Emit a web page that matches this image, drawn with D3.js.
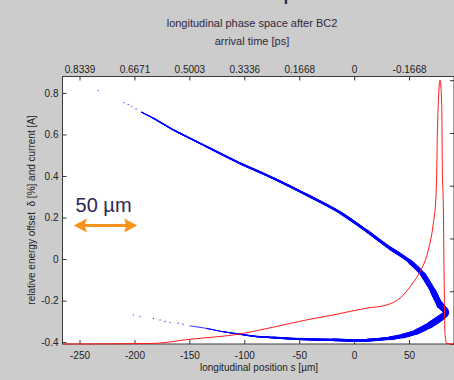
<!DOCTYPE html>
<html>
<head>
<meta charset="utf-8">
<script src="https://cdn.jsdelivr.net/npm/d3@7"></script>
<style>
  body { margin: 0; background: #cccccc; }
  svg { display: block; font-family: "Liberation Sans", Arial, sans-serif; }
  .tick text { fill: #222; font-size: 10px; }
  .tick line { stroke: #333; }
</style>
</head>
<body>
<svg id="chart" width="454" height="380"></svg>
<script>
// axis ticks
const sTicks = [-250, -200, -150, -100, -50, 0, 50];
const timeLabels = ["0.8339", "0.6671", "0.5003", "0.3336", "0.1668", "0", "-0.1668"];
const deltaTicks = [-0.4, -0.2, 0, 0.2, 0.4, 0.6, 0.8];
const currentTicks = [0, 1, 2, 3, 4, 5];

// dense core of the bunch (centre line, delta in %, spread = band width in %)
const beamS = [-193.4, -182.8, -164.6, -134.2, -103.9, -73.6, -43.1, -12.8, 11.5, 32.7, 50.9, 63.0, 72.1, 78.2, 83.7,
  78.2, 69.1, 57.0, 44.8, 32.7, 11.5, -19.2, -49.2, -73.6, -88.7, -103.9, -119.1, -134.2, -149.4];
const beamDelta = [0.707, 0.678, 0.622, 0.541, 0.461, 0.389, 0.309, 0.224, 0.135, 0.052, -0.013, -0.077, -0.157, -0.221, -0.257,
  -0.285, -0.317, -0.350, -0.370, -0.381, -0.391, -0.389, -0.385, -0.378, -0.373, -0.362, -0.350, -0.334, -0.322];
const beamSpread = [0.006, 0.007, 0.008, 0.009, 0.010, 0.011, 0.012, 0.013, 0.015, 0.018, 0.022, 0.026, 0.030, 0.034, 0.030,
  0.032, 0.032, 0.028, 0.024, 0.019, 0.015, 0.013, 0.011, 0.010, 0.008, 0.007, 0.006, 0.005, 0.004];

// sparse particles in the head and tail
const haloS = [-232.9, -209.4, -205.7, -202.4, -198.5, -201.0, -194.9, -182.8, -176.7, -172.2, -167.6, -160.3, -155.8];
const haloDelta = [0.811, 0.753, 0.744, 0.734, 0.723, -0.269, -0.277, -0.286, -0.293, -0.301, -0.306, -0.309, -0.314];

// current profile (kA)
const currentS = [-265.5, -184, -149.4, -103.9, -73.6, -40.1, -19.2, 11.5, 29.7, 41.8, 53.6, 60, 67.5, 72.1, 74.3, 75.2, 75.7,
  76.6, 78.2, 79.7, 80.3, 81.2, 81.8, 82.7, 84.3, 90.9];
const currentI = [0, 0.01, 0.09, 0.19, 0.32, 0.47, 0.55, 0.68, 0.74, 0.87, 1.16, 1.37, 1.78, 2.29, 2.73, 3.30, 3.93,
  4.56, 5.00, 4.56, 3.30, 2.60, 1.47, 0.20, 0.01, 0];

const svg = d3.select("#chart");
const plotLeft = 62.5, plotRight = 454, plotTop = 76.5, plotBottom = 344;

const x = d3.scaleLinear().domain([-265.5, 90.9]).range([plotLeft, plotRight]);
const y = d3.scaleLinear().domain([-0.409, 0.879]).range([plotBottom, plotTop]);
const yI = d3.scaleLinear().domain([0, 5.07]).range([plotBottom, plotTop]);

svg.append("defs").append("clipPath").attr("id", "plot-clip")
  .append("rect").attr("x", plotLeft).attr("y", plotTop)
  .attr("width", plotRight - plotLeft).attr("height", plotBottom - plotTop + 1);

svg.append("rect")
  .attr("x", plotLeft).attr("y", plotTop)
  .attr("width", plotRight - plotLeft).attr("height", plotBottom - plotTop)
  .attr("fill", "#fff")
  .attr("stroke", "#3a3a3a")
  .attr("stroke-width", 1);

// axes, ticks drawn inside the box
svg.append("g")
  .attr("transform", `translate(0,${plotBottom})`)
  .call(d3.axisBottom(x).tickValues(sTicks).tickSize(-4).tickPadding(8).tickFormat((d) => String(d)))
  .call((g) => g.select(".domain").remove());

svg.append("g")
  .attr("transform", `translate(0,${plotTop})`)
  .call(d3.axisTop(x).tickValues(sTicks).tickSize(-4).tickPadding(4).tickFormat((d, i) => timeLabels[i]))
  .call((g) => g.select(".domain").remove());

svg.append("g")
  .attr("transform", `translate(${plotLeft},0)`)
  .call(d3.axisLeft(y).tickValues(deltaTicks).tickSize(-4).tickPadding(4).tickFormat((d) => String(d)))
  .call((g) => g.select(".domain").remove());

svg.append("g")
  .attr("transform", `translate(${plotRight},0)`)
  .call(d3.axisRight(yI).tickValues(currentTicks).tickSize(-4).tickFormat(""))
  .call((g) => g.select(".domain").remove());

const plot = svg.append("g").attr("clip-path", "url(#plot-clip)");

// bunch core: one smooth stroke per spread level, thicker levels stacked on top
const beamLine = d3.line()
  .x((i) => x(beamS[i]))
  .y((i) => y(beamDelta[i]))
  .curve(d3.curveCatmullRom);

const levels = Array.from(new Set(beamSpread)).sort(d3.ascending);
levels.forEach((level) => {
  let run = [];
  const runs = [];
  beamSpread.forEach((w, i) => {
    if (w >= level) run.push(i);
    else if (run.length) { runs.push(run); run = []; }
  });
  if (run.length) runs.push(run);
  runs.forEach((r) => {
    plot.append("path")
      .attr("d", r.length > 1 ? beamLine(r) : `M${x(beamS[r[0]])},${y(beamDelta[r[0]])}h0`)
      .attr("fill", "none")
      .attr("stroke", "#0000ff")
      .attr("stroke-linecap", "round")
      .attr("stroke-linejoin", "round")
      .attr("stroke-width", Math.abs(y(0) - y(level)));
  });
});

plot.append("g")
  .selectAll("circle")
  .data(haloS)
  .enter()
  .append("circle")
  .attr("cx", (d) => x(d))
  .attr("cy", (d, i) => y(haloDelta[i]))
  .attr("r", 0.7)
  .attr("fill", "#3a3aff");

const currentLine = d3.line()
  .x((d) => x(d))
  .y((d, i) => yI(currentI[i]))
  .curve(d3.curveMonotoneX);

plot.append("path")
  .datum(currentS)
  .attr("d", currentLine)
  .attr("fill", "none")
  .attr("stroke", "#ff1a1a")
  .attr("stroke-width", 1);

// titles and labels
svg.append("text")
  .attr("x", 283).attr("y", -1.5)
  .attr("font-size", 26)
  .attr("fill", "#2d2752")
  .text("p");

svg.append("text")
  .attr("x", 252).attr("y", 27)
  .attr("text-anchor", "middle")
  .attr("font-size", 11)
  .attr("fill", "#2f2840")
  .text("longitudinal phase space after BC2");

svg.append("text")
  .attr("x", 252).attr("y", 44.5)
  .attr("text-anchor", "middle")
  .attr("font-size", 11)
  .attr("fill", "#2f2840")
  .text("arrival time [ps]");

svg.append("text")
  .attr("x", 259).attr("y", 371)
  .attr("text-anchor", "middle")
  .attr("font-size", 10)
  .attr("fill", "#222")
  .text("longitudinal position s [\u00b5m]");

svg.append("text")
  .attr("transform", "translate(34.5,210) rotate(-90)")
  .attr("text-anchor", "middle")
  .attr("font-size", 10)
  .attr("fill", "#222")
  .style("white-space", "pre")
  .text("relative energy offset  \u03b4 [%] and current [A]");

// scale bar annotation
const barS = [-255.2, -197.5];
const barDelta = 0.162;

svg.append("text")
  .attr("x", x(-253.6)).attr("y", y(0.2265))
  .attr("font-size", 20)
  .attr("fill", "#2d2752")
  .text("50 \u00b5m");

const arrow = svg.append("g").attr("fill", "#f7941d").attr("stroke", "#f7941d");
arrow.append("line")
  .attr("x1", x(barS[0]) + 8).attr("x2", x(barS[1]) - 8)
  .attr("y1", y(barDelta)).attr("y2", y(barDelta))
  .attr("stroke-width", 3);
arrow.append("path")
  .attr("stroke", "none")
  .attr("d", `M${x(barS[0])},${y(barDelta)} l13,-7 l-2,7 l2,7 Z`);
arrow.append("path")
  .attr("stroke", "none")
  .attr("d", `M${x(barS[1])},${y(barDelta)} l-13,-7 l2,7 l-2,7 Z`);
</script>
</body>
</html>
